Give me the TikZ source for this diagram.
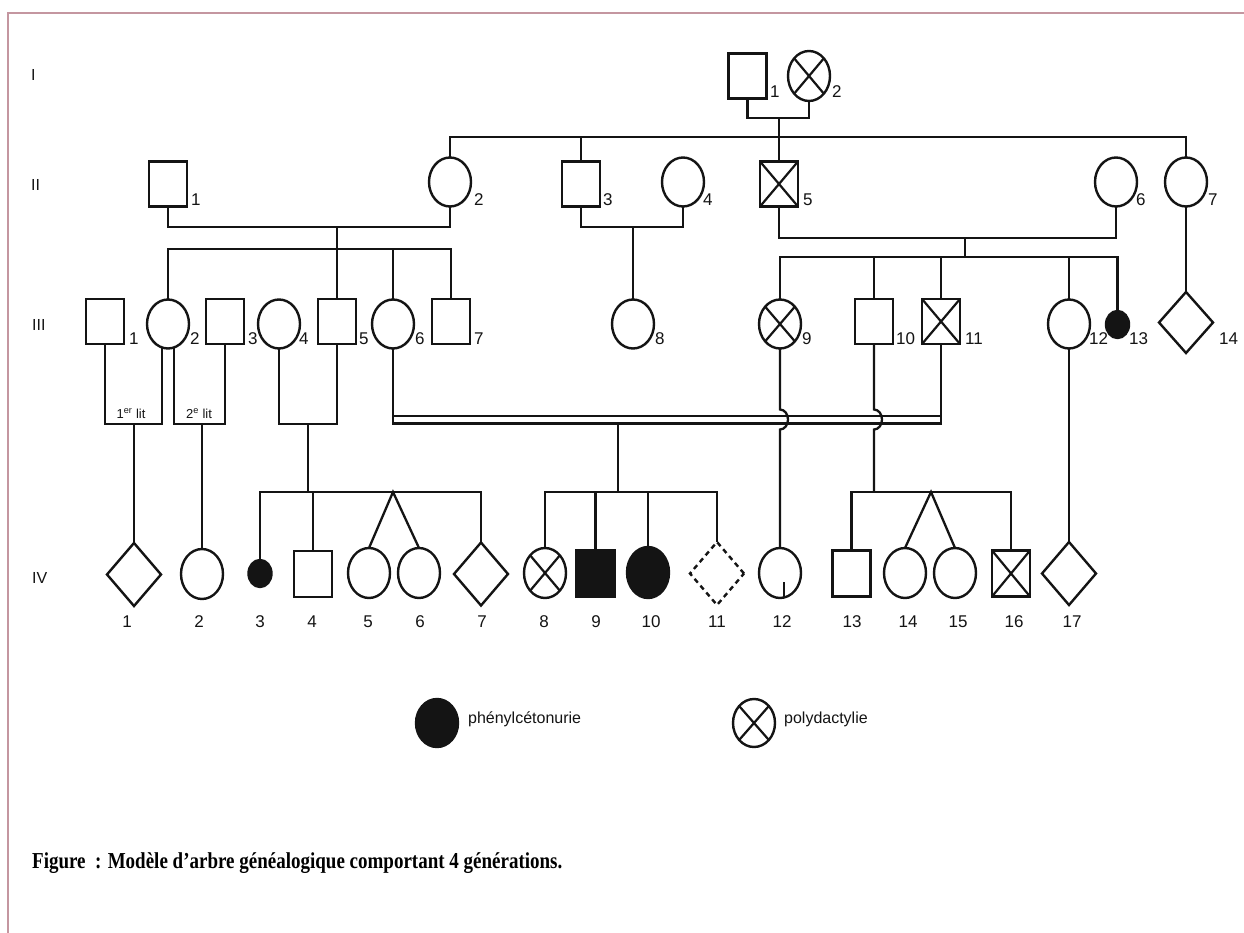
\documentclass[tikz,border=0pt]{standalone}
\usepackage{fontspec}
\setmainfont{Liberation Sans}
\newfontfamily\capfont{Liberation Serif}
\usetikzlibrary{shapes.geometric,calc}
\definecolor{frame}{RGB}{196,150,160}
\definecolor{ink}{RGB}{20,20,20}
\tikzset{
  sym/.style={draw=ink, line width=2.4pt, inner sep=0pt, outer sep=0pt},
  male/.style={sym, rectangle, minimum width=38pt, minimum height=45pt},
  female/.style={sym, ellipse, minimum width=42pt, minimum height=49pt},
  unk/.style={sym, diamond, minimum width=54pt, minimum height=63pt},
  smallaff/.style={sym, ellipse, fill=ink, minimum width=23pt, minimum height=27pt},
  aff/.style={fill=ink},
  poly/.style={path picture={\draw[ink, line width=2.2pt]
      (path picture bounding box.north west) -- (path picture bounding box.south east)
      (path picture bounding box.north east) -- (path picture bounding box.south west);}},
  numlab/.style={font=\fontsize{17}{20}\selectfont, inner sep=0pt, text=ink},
  genlab/.style={font=\fontsize{16}{19}\selectfont, inner sep=0pt, text=ink, anchor=west},
  litlab/.style={font=\fontsize{13}{15}\selectfont, inner sep=0pt, text=ink, anchor=base},
  legtext/.style={font=\fontsize{16}{19}\selectfont, inner sep=0pt, text=ink, anchor=west},
  captext/.style={font=\capfont\bfseries\fontsize{19}{22}\selectfont, inner sep=0pt, text=black, anchor=base west},
}
\begin{document}
\begin{tikzpicture}[x=1pt, y=-1pt, line width=2.3pt, color=ink]
\useasboundingbox (0,0) rectangle (1244,933);
\fill[white] (0,0) rectangle (1244,933);
\draw[frame, line width=1.2pt] (8,933) -- (8,13) -- (1244,13);

% generation labels
\node[genlab] (gI)   at (30,75)  {I};
\node[genlab] (gII)  at (30,185) {II};
\node[genlab] (gIII) at (31,325) {III};
\node[genlab] (gIV)  at (31,578) {IV};

% ---------- generation I ----------
\node[male] (I1) at (747.5,76) {};
\node[female, minimum height=50pt, poly] (I2) at (809,76) {};
\node[numlab, anchor=base west] (lI1) at (769,98) {1};
\node[numlab, anchor=base west] (lI2) at (831,98) {2};

% ---------- generation II ----------
\node[male]         (II1) at (168,184) {};
\node[female]       (II2) at (450,182) {};
\node[male]         (II3) at (581,184) {};
\node[female]       (II4) at (683,182) {};
\node[male, poly]   (II5) at (779,184) {};
\node[female]       (II6) at (1116,182) {};
\node[female]       (II7) at (1186,182) {};
\node[numlab, anchor=base west] (lII1) at (190,206) {1};
\node[numlab, anchor=base west] (lII2) at (473,206) {2};
\node[numlab, anchor=base west] (lII3) at (602,206) {3};
\node[numlab, anchor=base west] (lII4) at (702,206) {4};
\node[numlab, anchor=base west] (lII5) at (802,206) {5};
\node[numlab, anchor=base west] (lII6) at (1135,206) {6};
\node[numlab, anchor=base west] (lII7) at (1207,206) {7};

% ---------- generation III ----------
\node[male]          (III1)  at (105,321.5) {};
\node[female]        (III2)  at (168,324) {};
\node[male]          (III3)  at (225,321.5) {};
\node[female]        (III4)  at (279,324) {};
\node[male]          (III5)  at (337,321.5) {};
\node[female]        (III6)  at (393,324) {};
\node[male]          (III7)  at (451,321.5) {};
\node[female]        (III8)  at (633,324) {};
\node[female, poly]  (III9)  at (780,324) {};
\node[male]          (III10) at (874,321.5) {};
\node[male, poly]    (III11) at (941,321.5) {};
\node[female]        (III12) at (1069,324) {};
\node[smallaff]      (III13) at (1117.5,324.5) {};
\node[unk, minimum height=61pt] (III14) at (1186,322.5) {};
\node[numlab, anchor=base west] (lIII1)  at (128,344) {1};
\node[numlab, anchor=base west] (lIII2)  at (189,344) {2};
\node[numlab, anchor=base west] (lIII3)  at (247,344) {3};
\node[numlab, anchor=base west] (lIII4)  at (298,344) {4};
\node[numlab, anchor=base west] (lIII5)  at (358,344) {5};
\node[numlab, anchor=base west] (lIII6)  at (414,344) {6};
\node[numlab, anchor=base west] (lIII7)  at (473,344) {7};
\node[numlab, anchor=base west] (lIII8)  at (654,344) {8};
\node[numlab, anchor=base west] (lIII9)  at (801,344) {9};
\node[numlab, anchor=base west] (lIII10) at (895,344) {10};
\node[numlab, anchor=base west] (lIII11) at (964,344) {11};
\node[numlab, anchor=base west] (lIII12) at (1088,344) {12};
\node[numlab, anchor=base west] (lIII13) at (1128,344) {13};
\node[numlab, anchor=base west] (lIII14) at (1218,344) {14};

% ---------- generation IV ----------
\node[unk]               (IV1)  at (134,574.5) {};
\node[female, minimum height=50pt] (IV2) at (202,574) {};
\node[smallaff]          (IV3)  at (260,573.5) {};
\node[male, minimum height=46pt] (IV4) at (313,574) {};
\node[female, minimum height=50pt] (IV5) at (369,573) {};
\node[female, minimum height=50pt] (IV6) at (419,573) {};
\node[unk]               (IV7)  at (481,574) {};
\node[female, minimum height=50pt, poly] (IV8) at (545,573) {};
\node[male, aff, minimum height=46pt] (IV9) at (595.5,573.5) {};
\node[female, aff, minimum height=51pt] (IV10) at (648,572.5) {};
\node[unk, dash pattern=on 5pt off 4pt] (IV11) at (717,573.5) {};
\node[female, minimum height=50pt] (IV12) at (780,573) {};
\node[male, minimum height=46pt] (IV13) at (851.5,573.5) {};
\node[female, minimum height=50pt] (IV14) at (905,573) {};
\node[female, minimum height=50pt] (IV15) at (955,573) {};
\node[male, poly, minimum height=46pt] (IV16) at (1011,573.5) {};
\node[unk]               (IV17) at (1069,573.5) {};
\node[numlab, anchor=base] (lIV1)  at (127,627) {1};
\node[numlab, anchor=base] (lIV2)  at (199,627) {2};
\node[numlab, anchor=base] (lIV3)  at (260,627) {3};
\node[numlab, anchor=base] (lIV4)  at (312,627) {4};
\node[numlab, anchor=base] (lIV5)  at (368,627) {5};
\node[numlab, anchor=base] (lIV6)  at (420,627) {6};
\node[numlab, anchor=base] (lIV7)  at (482,627) {7};
\node[numlab, anchor=base] (lIV8)  at (544,627) {8};
\node[numlab, anchor=base] (lIV9)  at (596,627) {9};
\node[numlab, anchor=base] (lIV10) at (651,627) {10};
\node[numlab, anchor=base] (lIV11) at (717,627) {11};
\node[numlab, anchor=base] (lIV12) at (782,627) {12};
\node[numlab, anchor=base] (lIV13) at (852,627) {13};
\node[numlab, anchor=base] (lIV14) at (908,627) {14};
\node[numlab, anchor=base] (lIV15) at (958,627) {15};
\node[numlab, anchor=base] (lIV16) at (1014,627) {16};
\node[numlab, anchor=base] (lIV17) at (1072,627) {17};
\draw[line width=1.7pt] ([xshift=4pt]IV12.south) -- ([xshift=4pt, yshift=16pt]IV12.south);

% ---------- connectors: generation I -> II ----------
\coordinate (mI)  at (779,118);
\coordinate (sII) at (779,137);
\draw (I1.south) |- (mI) -| (I2.south);
\draw (mI) -- (sII);
\draw (II2.north) |- (sII);
\draw (sII) -| (II7.north);
\draw (sII) -- (II5.north);
\draw (II3.north) -- (II3.north |- sII);

% ---------- II-1 x II-2 ----------
\coordinate (mII12) at (337,227);
\coordinate (sIIIa) at (337,249);
\draw (II1.south) |- (mII12) -| (II2.south);
\draw (mII12) -- (sIIIa);
\draw (III2.north) |- (sIIIa) -| (III7.north);
\draw (sIIIa) -- (III5.north);
\draw (III6.north |- sIIIa) -- (III6.north);

% ---------- II-3 x II-4 ----------
\coordinate (mII34) at (633,227);
\draw (II3.south) |- (mII34) -| (II4.south);
\draw (mII34) -- (III8.north);

% ---------- II-5 x II-6 ----------
\coordinate (mII56) at (965,238);
\coordinate (sIIIb) at (965,257);
\draw (II5.south) |- (mII56) -| (II6.south);
\draw (mII56) -- (sIIIb);
\draw (III9.north) |- (sIIIb) -| (III13.north);
\draw (III10.north |- sIIIb) -- (III10.north);
\draw (III11.north |- sIIIb) -- (III11.north);
\draw (III12.north |- sIIIb) -- (III12.north);

% ---------- II-7 -> III-14 ----------
\draw (II7.south) -- (III14.north);

% ---------- III unions ----------
\coordinate (u1) at (134,424);
\draw (III1.south) |- (u1) -| (III2.255);
\draw (u1) -- (IV1.north);
\node[litlab] (lit1) at (131,418) {1\textsuperscript{er} lit};

\coordinate (u2) at (202,424);
\draw (III2.285) |- (u2) -| (III3.south);
\draw (u2) -- (IV2.north);
\node[litlab] (lit2) at (199,418) {2\textsuperscript{e} lit};

\coordinate (u3)  at (308,424);
\coordinate (s4a) at (308,492);
\coordinate (tw1) at (393,492);
\draw (III4.south) |- (u3) -| (III5.south);
\draw (u3) -- (s4a);
\draw (IV3.north) |- (s4a) -| (IV7.north);
\draw (IV4.north |- s4a) -- (IV4.north);
\draw (IV5.north) -- (tw1) -- (IV6.north);

% consanguineous union III-6 x III-11 (double line)
\coordinate (dlL) at (393,423.5);
\coordinate (dlR) at (941,423.5);
\coordinate (dtL) at (393,416);
\coordinate (dtR) at (941,416);
\draw (III6.south) -- (dlL) -- (dlR) -- (III11.south);
\draw (dtL) -- (dtR);
\coordinate (dd)  at (618,423.5);
\coordinate (s4b) at (618,492);
\draw (dd) -- (s4b);
\draw (IV8.north) |- (s4b) -| (IV11.north);
\draw (IV9.north |- s4b) -- (IV9.north);
\draw (IV10.north |- s4b) -- (IV10.north);

% III-9 -> IV-12 with jump over the double line
\coordinate (j1) at (780,419.5);
\draw (III9.south) -- ($(j1)+(0,-10)$) arc[start angle=-90, end angle=90, x radius=8, y radius=10] -- (IV12.north);

% III-10 -> IV-13..16 with jump
\coordinate (j2)  at (874,419.5);
\coordinate (s4c) at (874,492);
\coordinate (tw2) at (931,492);
\draw (III10.south) -- ($(j2)+(0,-10)$) arc[start angle=-90, end angle=90, x radius=8, y radius=10] -- (s4c);
\draw (IV13.north) |- (s4c) -| (IV16.north);
\draw (IV14.north) -- (tw2) -- (IV15.north);

% III-12 -> IV-17
\draw (III12.south) -- (IV17.north);

% ---------- legend ----------
\node[female, aff, minimum height=48pt] (legA) at (437,723) {};
\node[legtext] (legAt) at (467,719) {phénylcétonurie};
\node[female, poly, minimum height=48pt] (legB) at (754,723) {};
\node[legtext] (legBt) at (783,719) {polydactylie};

% ---------- caption ----------
\node[captext] (cap1) at (31,868) {\scalebox{1}[1.2]{Figure}};
\node[captext] (cap2) at (94,868) {\scalebox{1}[1.2]{: Modèle d’arbre généalogique comportant 4 générations.}};
\end{tikzpicture}
\end{document}
